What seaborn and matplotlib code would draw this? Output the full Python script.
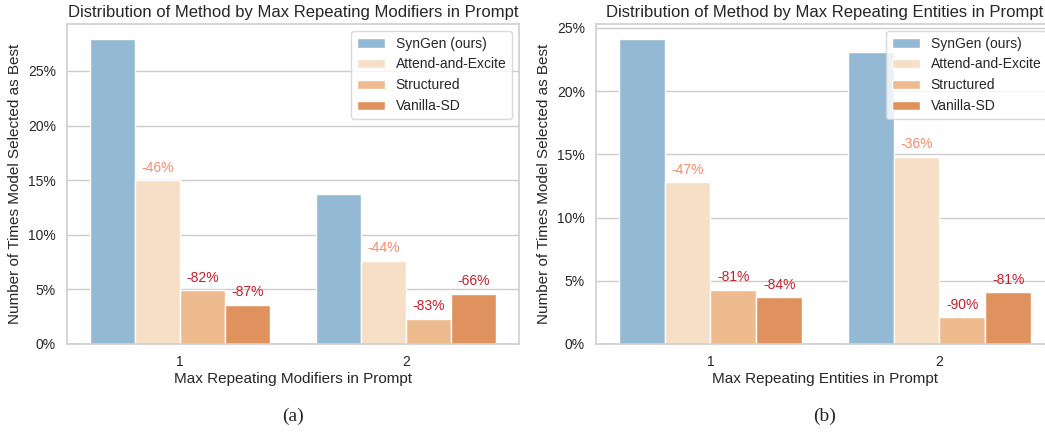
import pandas as pd
import seaborn as sns
import matplotlib.pyplot as plt
from matplotlib.ticker import PercentFormatter

# ---------------- Data ----------------
METHODS = ["SynGen (ours)", "Attend-and-Excite", "Structured", "Vanilla-SD"]
GROUPS = ["1", "2"]

# percent of times each method was selected as best, per group
MOD_VALUES = {
    "1": [27.9, 15.0, 4.9, 3.6],
    "2": [13.7, 7.6, 2.3, 4.6],
}
ENT_VALUES = {
    "1": [24.1, 12.8, 4.3, 3.7],
    "2": [23.1, 14.8, 2.1, 4.1],
}
# relative drop vs SynGen, as printed above the bars
MOD_LABELS = {"1": ["-46%", "-82%", "-87%"], "2": ["-44%", "-83%", "-66%"]}
ENT_LABELS = {"1": ["-47%", "-81%", "-84%"], "2": ["-36%", "-90%", "-81%"]}

COLORS = ["#93b9d4", "#f7dfc7", "#eebb8f", "#df925d"]
LIGHT_RED = "#fc8a6a"
DARK_RED = "#c4202b"

sns.set_theme(style="whitegrid")
plt.rcParams["font.family"] = ["Liberation Sans", "DejaVu Sans"]


def to_frame(values):
    rows = []
    for g in GROUPS:
        for m, v in zip(METHODS, values[g]):
            rows.append({"group": g, "method": m, "value": v})
    return pd.DataFrame(rows)


def draw_panel(ax, values, labels, title, xlabel, tag):
    df = to_frame(values)
    sns.barplot(data=df, x="group", y="value", hue="method", hue_order=METHODS,
                order=GROUPS, palette=COLORS, saturation=1, ax=ax,
                edgecolor="white", linewidth=1)
    ax.yaxis.set_major_formatter(PercentFormatter(xmax=100, decimals=0))
    ax.xaxis.grid(False)
    ax.set_title(title, fontsize=12, pad=5)
    ax.set_xlabel(xlabel, fontsize=11, labelpad=2)
    ax.set_ylabel("Number of Times Model Selected as Best", fontsize=11)
    ax.tick_params(axis="both", labelsize=10, pad=2)
    for s in ax.spines.values():
        s.set_color("#d0d0d0")

    # annotate the non-SynGen bars
    for ci, cont in enumerate(ax.containers[1:]):
        for gi, bar in enumerate(cont):
            txt = labels[GROUPS[gi]][ci]
            col = LIGHT_RED if abs(int(txt[:-1])) < 50 else DARK_RED
            ax.annotate(txt, (bar.get_x() + bar.get_width() / 2, bar.get_height()),
                        xytext=(0, 4), textcoords="offset points",
                        ha="center", va="bottom", fontsize=10, color=col)

    leg = ax.legend(loc="upper right", fontsize=10, frameon=True)
    leg.get_frame().set_edgecolor("#d0d0d0")
    ax.text(0.5, -0.2, tag, transform=ax.transAxes, ha="center", va="top",
            fontsize=14, family=["Liberation Serif", "DejaVu Serif"])


fig = plt.figure(figsize=(10.45, 4.34), dpi=100)
ax1 = fig.add_axes([0.0641, 0.2074, 0.4325, 0.7373])
ax2 = fig.add_axes([0.5703, 0.2074, 0.4383, 0.7373])

draw_panel(ax1, MOD_VALUES, MOD_LABELS,
           "Distribution of Method by Max Repeating Modifiers in Prompt",
           "Max Repeating Modifiers in Prompt", "(a)")
draw_panel(ax2, ENT_VALUES, ENT_LABELS,
           "Distribution of Method by Max Repeating Entities in Prompt",
           "Max Repeating Entities in Prompt", "(b)")

fig.savefig("out.png", dpi=100)
